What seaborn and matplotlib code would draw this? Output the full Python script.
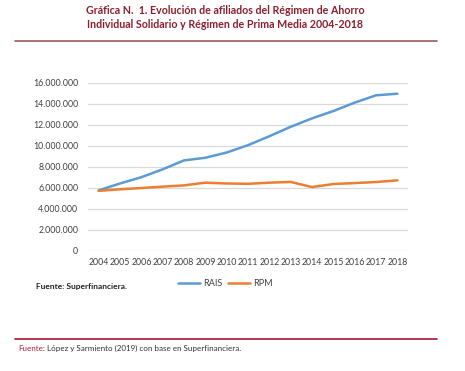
import matplotlib
matplotlib.use('Agg')
import matplotlib.pyplot as plt
import matplotlib.ticker as mticker
import numpy as np
import pandas as pd
import seaborn as sns

years = [2004, 2005, 2006, 2007, 2008, 2009, 2010, 2011,
         2012, 2013, 2014, 2015, 2016, 2017, 2018]
rais = [5.75, 6.4, 7.0, 7.75, 8.6, 8.85, 9.35, 10.05,
        10.9, 11.8, 12.6, 13.3, 14.1, 14.8, 14.95]
rpm = [5.7, 5.85, 5.97, 6.1, 6.22, 6.48, 6.4, 6.37,
       6.48, 6.55, 6.06, 6.35, 6.44, 6.54, 6.7]
series_names = ['RAIS', 'RPM']
colors = ['#5B9BD5', '#ED7D31']

df = pd.DataFrame({'year': years, 'RAIS': np.array(rais) * 1e6, 'RPM': np.array(rpm) * 1e6})
long_df = df.melt(id_vars='year', var_name='serie', value_name='afiliados')
long_df['pos'] = long_df['year'] - years[0]

sns.set_theme(style='white')
plt.rcParams['font.family'] = ['Lato', 'DejaVu Sans']

fig = plt.figure(figsize=(4.65, 3.71), dpi=100)
W, H = 465, 371


def fx(px):
    return px / W


def fy(py):
    return 1 - py / H


ax = fig.add_axes([fx(88), fy(250.7), fx(408) - fx(88), fy(82.7) - fy(250.7)])
sns.lineplot(data=long_df, x='pos', y='afiliados', hue='serie', hue_order=series_names,
             palette=colors, linewidth=1.8, ax=ax, legend=False)

ax.set_xlim(-0.5, len(years) - 0.5)
ax.set_ylim(0, 16e6)
ax.set_xticks(range(len(years)))
ax.set_xticklabels([str(y) for y in years])
ax.set_yticks(np.arange(0, 16e6 + 1, 2e6))
ax.yaxis.set_major_formatter(mticker.FuncFormatter(lambda v, p: '{:,.0f}'.format(v).replace(',', '.')))
ax.grid(axis='y', color='#D9D9D9', linewidth=0.9)
ax.set_axisbelow(True)
for s in ax.spines.values():
    s.set_visible(False)
ax.tick_params(axis='both', length=0, labelsize=6.3, colors='#404040')
ax.tick_params(axis='y', pad=7)
ax.tick_params(axis='x', pad=5)
ax.set_xlabel('')
ax.set_ylabel('')

# legend
for i, (name, c) in enumerate(zip(series_names, colors)):
    x0 = 178 + i * 50
    fig.add_artist(plt.Line2D([fx(x0), fx(x0 + 22)], [fy(283), fy(283)], color=c, linewidth=1.8))
    fig.text(fx(x0 + 25), fy(283), name, fontsize=6.5, color='#404040', va='center', ha='left')

fig.text(fx(36), fy(287), 'Fuente: Superfinanciera.', fontsize=6, fontweight='bold',
         color='#222222', va='center', ha='left')

# title
title_color = '#8B1E2D'
fig.text(fx(225), fy(11), 'Gráfica N.  1. Evolución de afiliados del Régimen de Ahorro',
         fontsize=7.7, fontweight='bold', color=title_color, ha='center', va='center')
fig.text(fx(225), fy(25), 'Individual Solidario y Régimen de Prima Media 2004-2018',
         fontsize=7.7, fontweight='bold', color=title_color, ha='center', va='center')
fig.add_artist(plt.Line2D([fx(15), fx(437)], [fy(41), fy(41)], color='#9B5A62', linewidth=1.2))

# footer
fig.add_artist(plt.Line2D([fx(15), fx(437)], [fy(338.5), fy(338.5)], color='#A31530', linewidth=1.2))
t = fig.text(fx(18), fy(351), 'Fuente:', fontsize=5.8, color='#B0203A', ha='left', va='baseline')
fig.canvas.draw()
bb = t.get_window_extent()
fig.text(bb.x1 / W + fx(2.5), fy(351), 'López y Sarmiento (2019) con base en Superfinanciera.',
         fontsize=5.8, color='#333333', ha='left', va='baseline')

fig.savefig('out.png', dpi=100)
